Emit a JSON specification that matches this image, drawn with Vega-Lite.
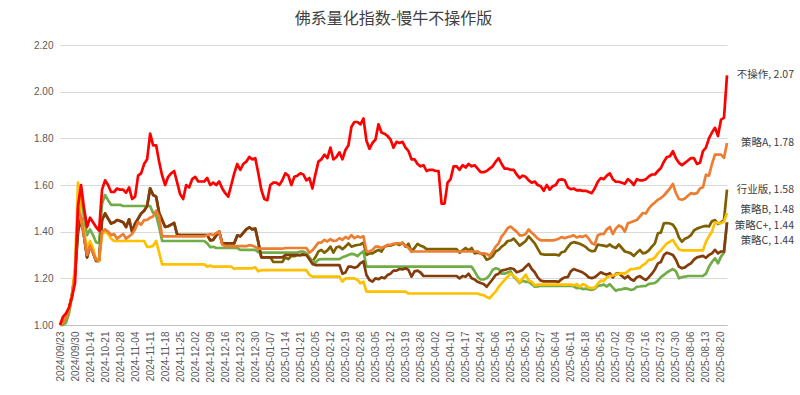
{
"$schema":"https://vega.github.io/schema/vega-lite/v6.json",
"width":667,"height":280,
"autosize":{"type":"none"},
"padding":{"left":60,"top":45,"right":73,"bottom":70},
"background":"white",
"title":{"text":"佛系量化指数-慢牛不操作版","font":"Noto Sans CJK SC","fontSize":16,"fontWeight":"normal","color":"#404040","offset":13,"anchor":"middle"},
"data":{"values":[
{"d":"2024-09-23","行业版":1.00,"策略C":1.00,"策略C+":1.00,"策略B":1.00,"策略A":1.00,"不操作":1.00},
{"d":"2024-09-24","行业版":1.01,"策略C":1.00,"策略C+":1.01,"策略B":1.01,"策略A":1.01,"不操作":1.035},
{"d":"2024-09-25","行业版":1.03,"策略C":1.01,"策略C+":1.03,"策略B":1.03,"策略A":1.03,"不操作":1.05},
{"d":"2024-09-26","行业版":1.07,"策略C":1.05,"策略C+":1.07,"策略B":1.07,"策略A":1.07,"不操作":1.075},
{"d":"2024-09-27","行业版":1.13,"策略C":1.12,"策略C+":1.13,"策略B":1.13,"策略A":1.13,"不操作":1.12},
{"d":"2024-09-30","行业版":1.22,"策略C":1.22,"策略C+":1.22,"策略B":1.25,"策略A":1.22,"不操作":1.18},
{"d":"2024-10-08","行业版":1.40,"策略C":1.50,"策略C+":1.40,"策略B":1.61,"策略A":1.50,"不操作":1.51},
{"d":"2024-10-09","行业版":1.46,"策略C":1.55,"策略C+":1.46,"策略B":1.45,"策略A":1.46,"不操作":1.60},
{"d":"2024-10-10","行业版":1.38,"策略C":1.46,"策略C+":1.38,"策略B":1.40,"策略A":1.38,"不操作":1.50},
{"d":"2024-10-11","行业版":1.29,"策略C":1.385,"策略C+":1.29,"策略B":1.33,"策略A":1.30,"不操作":1.42},
{"d":"2024-10-14","行业版":1.34,"策略C":1.41,"策略C+":1.34,"策略B":1.36,"策略A":1.34,"不操作":1.46},
{"d":"2024-10-15","行业版":1.31,"策略C":1.385,"策略C+":1.31,"策略B":1.33,"策略A":1.31,"不操作":1.44},
{"d":"2024-10-16","行业版":1.275,"策略C":1.355,"策略C+":1.275,"策略B":1.28,"策略A":1.28,"不操作":1.42},
{"d":"2024-10-17","行业版":1.275,"策略C":1.35,"策略C+":1.275,"策略B":1.275,"策略A":1.28,"不操作":1.405},
{"d":"2024-10-18","行业版":1.45,"策略C":1.52,"策略C+":1.45,"策略B":1.39,"策略A":1.40,"不操作":1.58},
{"d":"2024-10-21","行业版":1.478,"策略C":1.557,"策略C+":1.478,"策略B":1.40,"策略A":1.41,"不操作":1.62},
{"d":"2024-10-22","行业版":1.456,"策略C":1.535,"策略C+":1.456,"策略B":1.39,"策略A":1.40,"不操作":1.60},
{"d":"2024-10-23","行业版":1.435,"策略C":1.515,"策略C+":1.435,"策略B":1.37,"策略A":1.385,"不操作":1.57},
{"d":"2024-10-24","行业版":1.44,"策略C":1.515,"策略C+":1.44,"策略B":1.36,"策略A":1.39,"不操作":1.57},
{"d":"2024-10-25","行业版":1.45,"策略C":1.515,"策略C+":1.45,"策略B":1.36,"策略A":1.37,"不操作":1.585},
{"d":"2024-10-28","行业版":1.446,"策略C":1.515,"策略C+":1.446,"策略B":1.36,"策略A":1.38,"不操作":1.58},
{"d":"2024-10-29","行业版":1.44,"策略C":1.51,"策略C+":1.44,"策略B":1.36,"策略A":1.39,"不操作":1.58},
{"d":"2024-10-30","行业版":1.42,"策略C":1.51,"策略C+":1.42,"策略B":1.36,"策略A":1.37,"不操作":1.567},
{"d":"2024-10-31","行业版":1.453,"策略C":1.51,"策略C+":1.453,"策略B":1.36,"策略A":1.38,"不操作":1.59},
{"d":"2024-11-01","行业版":1.40,"策略C":1.51,"策略C+":1.40,"策略B":1.36,"策略A":1.39,"不操作":1.54},
{"d":"2024-11-04","行业版":1.435,"策略C":1.51,"策略C+":1.435,"策略B":1.36,"策略A":1.41,"不操作":1.55},
{"d":"2024-11-05","行业版":1.456,"策略C":1.51,"策略C+":1.456,"策略B":1.36,"策略A":1.44,"不操作":1.64},
{"d":"2024-11-06","行业版":1.478,"策略C":1.51,"策略C+":1.478,"策略B":1.36,"策略A":1.43,"不操作":1.65},
{"d":"2024-11-07","行业版":1.49,"策略C":1.51,"策略C+":1.49,"策略B":1.36,"策略A":1.45,"不操作":1.69},
{"d":"2024-11-08","行业版":1.51,"策略C":1.51,"策略C+":1.51,"策略B":1.335,"策略A":1.45,"不操作":1.71},
{"d":"2024-11-11","行业版":1.586,"策略C":1.51,"策略C+":1.586,"策略B":1.335,"策略A":1.46,"不操作":1.82},
{"d":"2024-11-12","行业版":1.557,"策略C":1.48,"策略C+":1.557,"策略B":1.34,"策略A":1.465,"不操作":1.77},
{"d":"2024-11-13","行业版":1.55,"策略C":1.47,"策略C+":1.55,"策略B":1.36,"策略A":1.49,"不操作":1.77},
{"d":"2024-11-14","行业版":1.48,"策略C":1.42,"策略C+":1.48,"策略B":1.31,"策略A":1.465,"不操作":1.70},
{"d":"2024-11-15","行业版":1.45,"策略C":1.36,"策略C+":1.45,"策略B":1.26,"策略A":1.38,"不操作":1.64},
{"d":"2024-11-18","行业版":1.42,"策略C":1.36,"策略C+":1.42,"策略B":1.26,"策略A":1.38,"不操作":1.60},
{"d":"2024-11-19","行业版":1.423,"策略C":1.36,"策略C+":1.423,"策略B":1.26,"策略A":1.38,"不操作":1.635},
{"d":"2024-11-20","行业版":1.43,"策略C":1.36,"策略C+":1.43,"策略B":1.26,"策略A":1.38,"不操作":1.65},
{"d":"2024-11-21","行业版":1.437,"策略C":1.36,"策略C+":1.437,"策略B":1.26,"策略A":1.38,"不操作":1.66},
{"d":"2024-11-22","行业版":1.387,"策略C":1.36,"策略C+":1.387,"策略B":1.26,"策略A":1.38,"不操作":1.61},
{"d":"2024-11-25","行业版":1.385,"策略C":1.36,"策略C+":1.385,"策略B":1.26,"策略A":1.38,"不操作":1.56},
{"d":"2024-11-26","行业版":1.385,"策略C":1.36,"策略C+":1.385,"策略B":1.26,"策略A":1.38,"不操作":1.54},
{"d":"2024-11-27","行业版":1.385,"策略C":1.36,"策略C+":1.385,"策略B":1.26,"策略A":1.38,"不操作":1.60},
{"d":"2024-11-28","行业版":1.385,"策略C":1.36,"策略C+":1.385,"策略B":1.26,"策略A":1.38,"不操作":1.59},
{"d":"2024-11-29","行业版":1.385,"策略C":1.36,"策略C+":1.385,"策略B":1.26,"策略A":1.38,"不操作":1.625},
{"d":"2024-12-02","行业版":1.385,"策略C":1.36,"策略C+":1.385,"策略B":1.26,"策略A":1.38,"不操作":1.635},
{"d":"2024-12-03","行业版":1.385,"策略C":1.36,"策略C+":1.385,"策略B":1.26,"策略A":1.38,"不操作":1.615},
{"d":"2024-12-04","行业版":1.385,"策略C":1.36,"策略C+":1.385,"策略B":1.26,"策略A":1.38,"不操作":1.615},
{"d":"2024-12-05","行业版":1.385,"策略C":1.36,"策略C+":1.385,"策略B":1.26,"策略A":1.38,"不操作":1.615},
{"d":"2024-12-06","行业版":1.385,"策略C":1.35,"策略C+":1.385,"策略B":1.25,"策略A":1.385,"不操作":1.63},
{"d":"2024-12-09","行业版":1.363,"策略C":1.334,"策略C+":1.363,"策略B":1.255,"策略A":1.39,"不操作":1.60},
{"d":"2024-12-10","行业版":1.365,"策略C":1.335,"策略C+":1.365,"策略B":1.25,"策略A":1.385,"不操作":1.61},
{"d":"2024-12-11","行业版":1.384,"策略C":1.33,"策略C+":1.384,"策略B":1.25,"策略A":1.394,"不操作":1.60},
{"d":"2024-12-12","行业版":1.40,"策略C":1.33,"策略C+":1.40,"策略B":1.25,"策略A":1.40,"不操作":1.615},
{"d":"2024-12-13","行业版":1.35,"策略C":1.33,"策略C+":1.35,"策略B":1.25,"策略A":1.345,"不操作":1.585},
{"d":"2024-12-16","行业版":1.35,"策略C":1.33,"策略C+":1.35,"策略B":1.25,"策略A":1.338,"不操作":1.565},
{"d":"2024-12-17","行业版":1.35,"策略C":1.33,"策略C+":1.35,"策略B":1.25,"策略A":1.338,"不操作":1.55},
{"d":"2024-12-18","行业版":1.35,"策略C":1.33,"策略C+":1.35,"策略B":1.25,"策略A":1.338,"不操作":1.60},
{"d":"2024-12-19","行业版":1.35,"策略C":1.33,"策略C+":1.35,"策略B":1.24,"策略A":1.338,"不操作":1.65},
{"d":"2024-12-20","行业版":1.384,"策略C":1.33,"策略C+":1.384,"策略B":1.243,"策略A":1.338,"不操作":1.69},
{"d":"2024-12-23","行业版":1.38,"策略C":1.322,"策略C+":1.38,"策略B":1.243,"策略A":1.338,"不操作":1.665},
{"d":"2024-12-24","行业版":1.395,"策略C":1.322,"策略C+":1.395,"策略B":1.243,"策略A":1.338,"不操作":1.69},
{"d":"2024-12-25","行业版":1.41,"策略C":1.322,"策略C+":1.41,"策略B":1.243,"策略A":1.338,"不操作":1.70},
{"d":"2024-12-26","行业版":1.418,"策略C":1.322,"策略C+":1.418,"策略B":1.243,"策略A":1.342,"不操作":1.72},
{"d":"2024-12-27","行业版":1.41,"策略C":1.322,"策略C+":1.41,"策略B":1.243,"策略A":1.34,"不操作":1.71},
{"d":"2024-12-30","行业版":1.413,"策略C":1.322,"策略C+":1.413,"策略B":1.247,"策略A":1.335,"不操作":1.715},
{"d":"2024-12-31","行业版":1.355,"策略C":1.312,"策略C+":1.355,"策略B":1.23,"策略A":1.327,"不操作":1.65},
{"d":"2025-01-02","行业版":1.29,"策略C":1.31,"策略C+":1.29,"策略B":1.235,"策略A":1.327,"不操作":1.58},
{"d":"2025-01-03","行业版":1.29,"策略C":1.31,"策略C+":1.29,"策略B":1.235,"策略A":1.327,"不操作":1.54},
{"d":"2025-01-06","行业版":1.29,"策略C":1.31,"策略C+":1.29,"策略B":1.235,"策略A":1.327,"不操作":1.535},
{"d":"2025-01-07","行业版":1.29,"策略C":1.31,"策略C+":1.29,"策略B":1.235,"策略A":1.327,"不操作":1.60},
{"d":"2025-01-08","行业版":1.27,"策略C":1.31,"策略C+":1.29,"策略B":1.235,"策略A":1.327,"不操作":1.61},
{"d":"2025-01-09","行业版":1.27,"策略C":1.31,"策略C+":1.29,"策略B":1.235,"策略A":1.327,"不操作":1.61},
{"d":"2025-01-10","行业版":1.27,"策略C":1.31,"策略C+":1.29,"策略B":1.235,"策略A":1.327,"不操作":1.60},
{"d":"2025-01-13","行业版":1.27,"策略C":1.31,"策略C+":1.29,"策略B":1.235,"策略A":1.327,"不操作":1.62},
{"d":"2025-01-14","行业版":1.29,"策略C":1.31,"策略C+":1.30,"策略B":1.235,"策略A":1.33,"不操作":1.65},
{"d":"2025-01-15","行业版":1.282,"策略C":1.31,"策略C+":1.30,"策略B":1.235,"策略A":1.33,"不操作":1.64},
{"d":"2025-01-16","行业版":1.296,"策略C":1.31,"策略C+":1.30,"策略B":1.235,"策略A":1.33,"不操作":1.60},
{"d":"2025-01-17","行业版":1.295,"策略C":1.31,"策略C+":1.30,"策略B":1.235,"策略A":1.33,"不操作":1.635},
{"d":"2025-01-20","行业版":1.30,"策略C":1.31,"策略C+":1.30,"策略B":1.235,"策略A":1.33,"不操作":1.64},
{"d":"2025-01-21","行业版":1.298,"策略C":1.315,"策略C+":1.30,"策略B":1.235,"策略A":1.33,"不操作":1.65},
{"d":"2025-01-22","行业版":1.307,"策略C":1.315,"策略C+":1.30,"策略B":1.235,"策略A":1.33,"不操作":1.645},
{"d":"2025-01-23","行业版":1.305,"策略C":1.307,"策略C+":1.30,"策略B":1.235,"策略A":1.33,"不操作":1.62},
{"d":"2025-01-24","行业版":1.286,"策略C":1.29,"策略C+":1.282,"策略B":1.215,"策略A":1.31,"不操作":1.63},
{"d":"2025-01-27","行业版":1.272,"策略C":1.275,"策略C+":1.262,"策略B":1.207,"策略A":1.32,"不操作":1.585},
{"d":"2025-02-05","行业版":1.29,"策略C":1.267,"策略C+":1.257,"策略B":1.207,"策略A":1.336,"不操作":1.645},
{"d":"2025-02-06","行业版":1.315,"策略C":1.28,"策略C+":1.257,"策略B":1.207,"策略A":1.353,"不操作":1.70},
{"d":"2025-02-07","行业版":1.322,"策略C":1.282,"策略C+":1.257,"策略B":1.207,"策略A":1.353,"不操作":1.71},
{"d":"2025-02-10","行业版":1.31,"策略C":1.282,"策略C+":1.257,"策略B":1.207,"策略A":1.365,"不操作":1.73},
{"d":"2025-02-11","行业版":1.32,"策略C":1.282,"策略C+":1.257,"策略B":1.207,"策略A":1.358,"不操作":1.715},
{"d":"2025-02-12","行业版":1.336,"策略C":1.282,"策略C+":1.257,"策略B":1.207,"策略A":1.368,"不操作":1.76},
{"d":"2025-02-13","行业版":1.31,"策略C":1.282,"策略C+":1.257,"策略B":1.207,"策略A":1.36,"不操作":1.71},
{"d":"2025-02-14","行业版":1.333,"策略C":1.282,"策略C+":1.257,"策略B":1.207,"策略A":1.362,"不操作":1.72},
{"d":"2025-02-17","行业版":1.336,"策略C":1.282,"策略C+":1.257,"策略B":1.207,"策略A":1.372,"不操作":1.74},
{"d":"2025-02-18","行业版":1.325,"策略C":1.29,"策略C+":1.22,"策略B":1.186,"策略A":1.365,"不操作":1.71},
{"d":"2025-02-19","行业版":1.336,"策略C":1.295,"策略C+":1.225,"策略B":1.20,"策略A":1.377,"不操作":1.75},
{"d":"2025-02-20","行业版":1.35,"策略C":1.30,"策略C+":1.25,"策略B":1.20,"策略A":1.37,"不操作":1.77},
{"d":"2025-02-21","行业版":1.336,"策略C":1.305,"策略C+":1.25,"策略B":1.20,"策略A":1.385,"不操作":1.85},
{"d":"2025-02-24","行业版":1.34,"策略C":1.303,"策略C+":1.245,"策略B":1.20,"策略A":1.372,"不操作":1.87},
{"d":"2025-02-25","行业版":1.343,"策略C":1.295,"策略C+":1.25,"策略B":1.193,"策略A":1.38,"不操作":1.87},
{"d":"2025-02-26","行业版":1.345,"策略C":1.307,"策略C+":1.265,"策略B":1.178,"策略A":1.375,"不操作":1.86},
{"d":"2025-02-27","行业版":1.353,"策略C":1.315,"策略C+":1.272,"策略B":1.186,"策略A":1.38,"不操作":1.885},
{"d":"2025-02-28","行业版":1.30,"策略C":1.25,"策略C+":1.214,"策略B":1.143,"策略A":1.315,"不操作":1.79},
{"d":"2025-03-03","行业版":1.307,"策略C":1.25,"策略C+":1.193,"策略B":1.143,"策略A":1.315,"不操作":1.755},
{"d":"2025-03-04","行业版":1.307,"策略C":1.25,"策略C+":1.186,"策略B":1.143,"策略A":1.322,"不操作":1.78},
{"d":"2025-03-05","行业版":1.315,"策略C":1.25,"策略C+":1.20,"策略B":1.143,"策略A":1.336,"不操作":1.795},
{"d":"2025-03-06","行业版":1.322,"策略C":1.25,"策略C+":1.196,"策略B":1.143,"策略A":1.336,"不操作":1.86},
{"d":"2025-03-07","行业版":1.315,"策略C":1.25,"策略C+":1.204,"策略B":1.143,"策略A":1.33,"不操作":1.825},
{"d":"2025-03-10","行业版":1.336,"策略C":1.25,"策略C+":1.20,"策略B":1.143,"策略A":1.336,"不操作":1.82},
{"d":"2025-03-11","行业版":1.34,"策略C":1.25,"策略C+":1.214,"策略B":1.143,"策略A":1.343,"不操作":1.81},
{"d":"2025-03-12","行业版":1.34,"策略C":1.25,"策略C+":1.22,"策略B":1.143,"策略A":1.343,"不操作":1.795},
{"d":"2025-03-13","行业版":1.345,"策略C":1.25,"策略C+":1.233,"策略B":1.143,"策略A":1.348,"不操作":1.76},
{"d":"2025-03-14","行业版":1.348,"策略C":1.25,"策略C+":1.233,"策略B":1.143,"策略A":1.35,"不操作":1.785},
{"d":"2025-03-17","行业版":1.343,"策略C":1.25,"策略C+":1.24,"策略B":1.143,"策略A":1.35,"不操作":1.78},
{"d":"2025-03-18","行业版":1.353,"策略C":1.25,"策略C+":1.238,"策略B":1.143,"策略A":1.35,"不操作":1.785},
{"d":"2025-03-19","行业版":1.336,"策略C":1.25,"策略C+":1.243,"策略B":1.143,"策略A":1.34,"不操作":1.76},
{"d":"2025-03-20","行业版":1.348,"策略C":1.25,"策略C+":1.236,"策略B":1.135,"策略A":1.33,"不操作":1.745},
{"d":"2025-03-21","行业版":1.315,"策略C":1.25,"策略C+":1.207,"策略B":1.135,"策略A":1.315,"不操作":1.71},
{"d":"2025-03-24","行业版":1.33,"策略C":1.25,"策略C+":1.23,"策略B":1.135,"策略A":1.315,"不操作":1.71},
{"d":"2025-03-25","行业版":1.348,"策略C":1.25,"策略C+":1.233,"策略B":1.135,"策略A":1.315,"不操作":1.69},
{"d":"2025-03-26","行业版":1.34,"策略C":1.25,"策略C+":1.225,"策略B":1.135,"策略A":1.315,"不操作":1.68},
{"d":"2025-03-27","行业版":1.335,"策略C":1.25,"策略C+":1.21,"策略B":1.135,"策略A":1.315,"不操作":1.685},
{"d":"2025-03-28","行业版":1.325,"策略C":1.25,"策略C+":1.21,"策略B":1.135,"策略A":1.315,"不操作":1.66},
{"d":"2025-03-31","行业版":1.325,"策略C":1.25,"策略C+":1.21,"策略B":1.135,"策略A":1.315,"不操作":1.665},
{"d":"2025-04-01","行业版":1.325,"策略C":1.25,"策略C+":1.21,"策略B":1.135,"策略A":1.315,"不操作":1.665},
{"d":"2025-04-02","行业版":1.325,"策略C":1.25,"策略C+":1.21,"策略B":1.135,"策略A":1.315,"不操作":1.66},
{"d":"2025-04-03","行业版":1.325,"策略C":1.25,"策略C+":1.21,"策略B":1.135,"策略A":1.315,"不操作":1.66},
{"d":"2025-04-07","行业版":1.325,"策略C":1.25,"策略C+":1.21,"策略B":1.135,"策略A":1.315,"不操作":1.52},
{"d":"2025-04-08","行业版":1.325,"策略C":1.25,"策略C+":1.21,"策略B":1.135,"策略A":1.315,"不操作":1.52},
{"d":"2025-04-09","行业版":1.325,"策略C":1.25,"策略C+":1.21,"策略B":1.135,"策略A":1.315,"不操作":1.61},
{"d":"2025-04-10","行业版":1.325,"策略C":1.25,"策略C+":1.21,"策略B":1.135,"策略A":1.315,"不操作":1.625},
{"d":"2025-04-11","行业版":1.325,"策略C":1.25,"策略C+":1.21,"策略B":1.135,"策略A":1.315,"不操作":1.68},
{"d":"2025-04-14","行业版":1.325,"策略C":1.25,"策略C+":1.21,"策略B":1.135,"策略A":1.315,"不操作":1.68},
{"d":"2025-04-15","行业版":1.31,"策略C":1.25,"策略C+":1.20,"策略B":1.135,"策略A":1.315,"不操作":1.665},
{"d":"2025-04-16","行业版":1.32,"策略C":1.25,"策略C+":1.21,"策略B":1.135,"策略A":1.315,"不操作":1.685},
{"d":"2025-04-17","行业版":1.33,"策略C":1.25,"策略C+":1.207,"策略B":1.135,"策略A":1.315,"不操作":1.675},
{"d":"2025-04-18","行业版":1.32,"策略C":1.25,"策略C+":1.22,"策略B":1.135,"策略A":1.315,"不操作":1.69},
{"d":"2025-04-21","行业版":1.33,"策略C":1.25,"策略C+":1.20,"策略B":1.135,"策略A":1.315,"不操作":1.68},
{"d":"2025-04-22","行业版":1.307,"策略C":1.23,"策略C+":1.195,"策略B":1.135,"策略A":1.315,"不操作":1.685},
{"d":"2025-04-23","行业版":1.31,"策略C":1.207,"策略C+":1.185,"策略B":1.135,"策略A":1.315,"不操作":1.67},
{"d":"2025-04-24","行业版":1.307,"策略C":1.195,"策略C+":1.18,"策略B":1.13,"策略A":1.307,"不操作":1.655},
{"d":"2025-04-25","行业版":1.30,"策略C":1.195,"策略C+":1.176,"策略B":1.128,"策略A":1.307,"不操作":1.655},
{"d":"2025-04-28","行业版":1.28,"策略C":1.20,"策略C+":1.164,"策略B":1.12,"策略A":1.305,"不操作":1.66},
{"d":"2025-04-29","行业版":1.285,"策略C":1.214,"策略C+":1.18,"策略B":1.114,"策略A":1.296,"不操作":1.67},
{"d":"2025-04-30","行业版":1.295,"策略C":1.236,"策略C+":1.196,"策略B":1.13,"策略A":1.315,"不操作":1.68},
{"d":"2025-05-06","行业版":1.315,"策略C":1.243,"策略C+":1.214,"策略B":1.143,"策略A":1.336,"不操作":1.70},
{"d":"2025-05-07","行业版":1.322,"策略C":1.24,"策略C+":1.22,"策略B":1.164,"策略A":1.35,"不操作":1.715},
{"d":"2025-05-08","行业版":1.336,"策略C":1.22,"策略C+":1.233,"策略B":1.178,"策略A":1.38,"不操作":1.69},
{"d":"2025-05-09","行业版":1.345,"策略C":1.22,"策略C+":1.236,"策略B":1.193,"策略A":1.395,"不操作":1.67},
{"d":"2025-05-12","行业版":1.36,"策略C":1.225,"策略C+":1.24,"策略B":1.207,"策略A":1.415,"不操作":1.67},
{"d":"2025-05-13","行业版":1.362,"策略C":1.23,"策略C+":1.243,"策略B":1.22,"策略A":1.422,"不操作":1.665},
{"d":"2025-05-14","行业版":1.37,"策略C":1.207,"策略C+":1.24,"策略B":1.21,"策略A":1.41,"不操作":1.665},
{"d":"2025-05-15","行业版":1.355,"策略C":1.195,"策略C+":1.226,"策略B":1.20,"策略A":1.40,"不操作":1.645},
{"d":"2025-05-16","行业版":1.34,"策略C":1.18,"策略C+":1.23,"策略B":1.183,"策略A":1.384,"不操作":1.63},
{"d":"2025-05-19","行业版":1.35,"策略C":1.19,"策略C+":1.236,"策略B":1.20,"策略A":1.384,"不操作":1.64},
{"d":"2025-05-20","行业版":1.36,"策略C":1.185,"策略C+":1.25,"策略B":1.216,"策略A":1.39,"不操作":1.635},
{"d":"2025-05-21","行业版":1.38,"策略C":1.185,"策略C+":1.262,"策略B":1.19,"策略A":1.41,"不操作":1.62},
{"d":"2025-05-22","行业版":1.365,"策略C":1.175,"策略C+":1.24,"策略B":1.185,"策略A":1.395,"不操作":1.61},
{"d":"2025-05-23","行业版":1.35,"策略C":1.164,"策略C+":1.226,"策略B":1.17,"策略A":1.384,"不操作":1.615},
{"d":"2025-05-26","行业版":1.327,"策略C":1.165,"策略C+":1.204,"策略B":1.173,"策略A":1.37,"不操作":1.60},
{"d":"2025-05-27","行业版":1.305,"策略C":1.168,"策略C+":1.19,"策略B":1.173,"策略A":1.363,"不操作":1.595},
{"d":"2025-05-28","行业版":1.302,"策略C":1.168,"策略C+":1.187,"策略B":1.173,"策略A":1.363,"不操作":1.575},
{"d":"2025-05-29","行业版":1.302,"策略C":1.168,"策略C+":1.187,"策略B":1.173,"策略A":1.363,"不操作":1.60},
{"d":"2025-05-30","行业版":1.302,"策略C":1.168,"策略C+":1.187,"策略B":1.173,"策略A":1.363,"不操作":1.58},
{"d":"2025-06-03","行业版":1.302,"策略C":1.168,"策略C+":1.187,"策略B":1.173,"策略A":1.363,"不操作":1.595},
{"d":"2025-06-04","行业版":1.302,"策略C":1.168,"策略C+":1.187,"策略B":1.173,"策略A":1.365,"不操作":1.60},
{"d":"2025-06-05","行业版":1.298,"策略C":1.168,"策略C+":1.185,"策略B":1.173,"策略A":1.37,"不操作":1.622},
{"d":"2025-06-06","行业版":1.312,"策略C":1.168,"策略C+":1.197,"策略B":1.173,"策略A":1.377,"不操作":1.624},
{"d":"2025-06-09","行业版":1.315,"策略C":1.168,"策略C+":1.204,"策略B":1.173,"策略A":1.372,"不操作":1.62},
{"d":"2025-06-10","行业版":1.334,"策略C":1.168,"策略C+":1.205,"策略B":1.173,"策略A":1.377,"不操作":1.59},
{"d":"2025-06-11","行业版":1.35,"策略C":1.168,"策略C+":1.23,"策略B":1.173,"策略A":1.38,"不操作":1.582},
{"d":"2025-06-12","行业版":1.355,"策略C":1.165,"策略C+":1.24,"策略B":1.17,"策略A":1.384,"不操作":1.585},
{"d":"2025-06-13","行业版":1.352,"策略C":1.158,"策略C+":1.235,"策略B":1.175,"策略A":1.375,"不操作":1.577},
{"d":"2025-06-16","行业版":1.348,"策略C":1.16,"策略C+":1.23,"策略B":1.164,"策略A":1.38,"不操作":1.578},
{"d":"2025-06-17","行业版":1.342,"策略C":1.154,"策略C+":1.225,"策略B":1.175,"策略A":1.378,"不操作":1.575},
{"d":"2025-06-18","行业版":1.334,"策略C":1.156,"策略C+":1.216,"策略B":1.17,"策略A":1.384,"不操作":1.575},
{"d":"2025-06-19","行业版":1.322,"策略C":1.152,"策略C+":1.204,"策略B":1.16,"策略A":1.37,"不操作":1.57},
{"d":"2025-06-20","行业版":1.316,"策略C":1.15,"策略C+":1.201,"策略B":1.158,"策略A":1.35,"不操作":1.565},
{"d":"2025-06-23","行业版":1.318,"策略C":1.155,"策略C+":1.205,"策略B":1.16,"策略A":1.345,"不操作":1.586},
{"d":"2025-06-24","行业版":1.345,"策略C":1.168,"策略C+":1.215,"策略B":1.178,"策略A":1.385,"不操作":1.614},
{"d":"2025-06-25","行业版":1.342,"策略C":1.17,"策略C+":1.226,"策略B":1.19,"策略A":1.39,"不操作":1.63},
{"d":"2025-06-26","行业版":1.34,"策略C":1.173,"策略C+":1.22,"策略B":1.188,"策略A":1.39,"不操作":1.625},
{"d":"2025-06-27","行业版":1.337,"策略C":1.165,"策略C+":1.216,"策略B":1.205,"策略A":1.41,"不操作":1.64},
{"d":"2025-06-30","行业版":1.345,"策略C":1.175,"策略C+":1.222,"策略B":1.21,"策略A":1.42,"不操作":1.65},
{"d":"2025-07-01","行业版":1.335,"策略C":1.16,"策略C+":1.204,"策略B":1.212,"策略A":1.39,"不操作":1.625},
{"d":"2025-07-02","行业版":1.33,"策略C":1.147,"策略C+":1.219,"策略B":1.216,"策略A":1.413,"不操作":1.614},
{"d":"2025-07-03","行业版":1.345,"策略C":1.152,"策略C+":1.222,"策略B":1.22,"策略A":1.427,"不操作":1.614},
{"d":"2025-07-04","行业版":1.33,"策略C":1.153,"策略C+":1.21,"策略B":1.222,"策略A":1.42,"不操作":1.61},
{"d":"2025-07-07","行业版":1.315,"策略C":1.157,"策略C+":1.20,"策略B":1.22,"策略A":1.40,"不操作":1.605},
{"d":"2025-07-08","行业版":1.312,"策略C":1.155,"策略C+":1.21,"策略B":1.23,"策略A":1.436,"不操作":1.625},
{"d":"2025-07-09","行业版":1.307,"策略C":1.15,"策略C+":1.196,"策略B":1.24,"策略A":1.44,"不操作":1.615},
{"d":"2025-07-10","行业版":1.296,"策略C":1.153,"策略C+":1.19,"策略B":1.24,"策略A":1.446,"不操作":1.60},
{"d":"2025-07-11","行业版":1.31,"策略C":1.164,"策略C+":1.205,"策略B":1.243,"策略A":1.45,"不操作":1.625},
{"d":"2025-07-14","行业版":1.322,"策略C":1.165,"策略C+":1.21,"策略B":1.245,"策略A":1.465,"不操作":1.62},
{"d":"2025-07-15","行业版":1.307,"策略C":1.167,"策略C+":1.20,"策略B":1.257,"策略A":1.48,"不操作":1.62},
{"d":"2025-07-16","行业版":1.31,"策略C":1.168,"策略C+":1.193,"策略B":1.265,"策略A":1.478,"不操作":1.625},
{"d":"2025-07-17","行业版":1.32,"策略C":1.176,"策略C+":1.205,"策略B":1.28,"策略A":1.50,"不操作":1.637},
{"d":"2025-07-18","行业版":1.336,"策略C":1.178,"策略C+":1.22,"策略B":1.28,"策略A":1.515,"不操作":1.645},
{"d":"2025-07-21","行业版":1.35,"策略C":1.18,"策略C+":1.238,"策略B":1.29,"策略A":1.525,"不操作":1.645},
{"d":"2025-07-22","行业版":1.393,"策略C":1.19,"策略C+":1.264,"策略B":1.307,"策略A":1.537,"不操作":1.66},
{"d":"2025-07-23","行业版":1.396,"策略C":1.205,"策略C+":1.27,"策略B":1.32,"策略A":1.544,"不操作":1.673},
{"d":"2025-07-24","行业版":1.436,"策略C":1.215,"策略C+":1.30,"策略B":1.336,"策略A":1.555,"不操作":1.70},
{"d":"2025-07-25","行业版":1.437,"策略C":1.225,"策略C+":1.31,"策略B":1.35,"策略A":1.57,"不操作":1.72},
{"d":"2025-07-28","行业版":1.435,"策略C":1.233,"策略C+":1.305,"策略B":1.357,"策略A":1.585,"不操作":1.723},
{"d":"2025-07-29","行业版":1.43,"策略C":1.24,"策略C+":1.30,"策略B":1.365,"策略A":1.605,"不操作":1.745},
{"d":"2025-07-30","行业版":1.41,"策略C":1.23,"策略C+":1.28,"策略B":1.343,"策略A":1.565,"不操作":1.715},
{"d":"2025-07-31","行业版":1.375,"策略C":1.20,"策略C+":1.25,"策略B":1.325,"策略A":1.54,"不操作":1.695},
{"d":"2025-08-01","行业版":1.357,"策略C":1.205,"策略C+":1.243,"策略B":1.32,"策略A":1.537,"不操作":1.685},
{"d":"2025-08-04","行业版":1.37,"策略C":1.207,"策略C+":1.247,"策略B":1.32,"策略A":1.542,"不操作":1.695},
{"d":"2025-08-05","行业版":1.375,"策略C":1.21,"策略C+":1.257,"策略B":1.32,"策略A":1.554,"不操作":1.705},
{"d":"2025-08-06","行业版":1.385,"策略C":1.21,"策略C+":1.264,"策略B":1.32,"策略A":1.565,"不操作":1.715},
{"d":"2025-08-07","行业版":1.405,"策略C":1.21,"策略C+":1.28,"策略B":1.32,"策略A":1.562,"不操作":1.715},
{"d":"2025-08-08","行业版":1.413,"策略C":1.21,"策略C+":1.29,"策略B":1.32,"策略A":1.565,"不操作":1.69},
{"d":"2025-08-11","行业版":1.418,"策略C":1.21,"策略C+":1.293,"策略B":1.32,"策略A":1.585,"不操作":1.695},
{"d":"2025-08-12","行业版":1.422,"策略C":1.21,"策略C+":1.296,"策略B":1.32,"策略A":1.59,"不操作":1.745},
{"d":"2025-08-13","行业版":1.425,"策略C":1.22,"策略C+":1.288,"策略B":1.357,"策略A":1.644,"不操作":1.76},
{"d":"2025-08-14","行业版":1.422,"策略C":1.25,"策略C+":1.30,"策略B":1.38,"策略A":1.64,"不操作":1.80},
{"d":"2025-08-15","行业版":1.445,"策略C":1.27,"策略C+":1.307,"策略B":1.40,"策略A":1.69,"不操作":1.825},
{"d":"2025-08-18","行业版":1.45,"策略C":1.286,"策略C+":1.322,"策略B":1.44,"策略A":1.73,"不操作":1.845},
{"d":"2025-08-19","行业版":1.433,"策略C":1.264,"策略C+":1.307,"策略B":1.437,"策略A":1.73,"不操作":1.81},
{"d":"2025-08-20","行业版":1.44,"策略C":1.293,"策略C+":1.315,"策略B":1.436,"策略A":1.73,"不操作":1.88},
{"d":"2025-08-21","行业版":1.45,"策略C":1.31,"策略C+":1.315,"策略B":1.443,"策略A":1.716,"不操作":1.888},
{"d":"2025-08-22","行业版":1.58,"策略C":1.44,"策略C+":1.44,"策略B":1.48,"策略A":1.78,"不操作":2.07}
]},
"transform":[{"fold":["行业版","策略C","策略C+","策略B","策略A","不操作"],"as":["series","value"]}],
"encoding":{
 "x":{"field":"d","type":"ordinal","sort":null,"scale":{"type":"point","padding":0},
  "axis":{"title":null,"values":["2024-09-23","2024-09-30","2024-10-14","2024-10-21","2024-10-28","2024-11-04","2024-11-11","2024-11-18","2024-11-25","2024-12-02","2024-12-09","2024-12-16","2024-12-23","2024-12-30","2025-01-07","2025-01-14","2025-01-21","2025-02-05","2025-02-12","2025-02-19","2025-02-26","2025-03-05","2025-03-12","2025-03-19","2025-03-26","2025-04-02","2025-04-10","2025-04-17","2025-04-24","2025-05-06","2025-05-13","2025-05-20","2025-05-27","2025-06-04","2025-06-11","2025-06-18","2025-06-25","2025-07-02","2025-07-09","2025-07-16","2025-07-23","2025-07-30","2025-08-06","2025-08-13","2025-08-20"],
  "labelExpr":"datum.value == '2024-09-23' ? '2024/09/23' : datum.value == '2024-09-30' ? '2024/09/30' : datum.value",
  "labelAngle":270,"ticks":false,"grid":false,"domainColor":"#bfbfbf","labelFont":"Liberation Sans","labelFontSize":10,"labelColor":"#595959","labelPadding":6}},
 "y":{"field":"value","type":"quantitative","scale":{"domain":[1,2.2],"nice":false,"zero":false},
  "axis":{"title":null,"values":[1,1.2,1.4,1.6,1.8,2,2.2],"format":".2f","domain":false,"ticks":false,"gridColor":"#d9d9d9","gridWidth":1,"labelFont":"Liberation Sans","labelFontSize":10,"labelColor":"#595959","labelPadding":7}}
},
"layer":[
 {"mark":{"type":"line","strokeWidth":2.7,"strokeJoin":"round"},
  "encoding":{"color":{"field":"series","type":"nominal","legend":null,"scale":{"domain":["行业版","策略C","策略C+","策略B","策略A","不操作"],"range":["#7F6000","#70AD47","#843C0C","#FFC000","#ED7D31","#FF0000"]}}}},
 {"transform":[{"filter":"datum.d == '2025-08-22' && datum.series != '策略C' && datum.series != '策略C+' && datum.series != '策略B'"},{"calculate":"datum.series + ', ' + format(datum.value, '.2f')","as":"label"}],
  "mark":{"type":"text","align":"right","baseline":"middle","dx":67,"font":"Noto Sans CJK SC","fontSize":10.5,"color":"#404040"},
  "encoding":{"text":{"field":"label","type":"nominal"}}},
 {"transform":[{"filter":"datum.d == '2025-08-22' && datum.series == '策略B'"},{"calculate":"datum.series + ', ' + format(datum.value, '.2f')","as":"label"}],
  "mark":{"type":"text","align":"right","baseline":"middle","dx":67,"dy":-3,"font":"Noto Sans CJK SC","fontSize":10.5,"color":"#404040"},
  "encoding":{"text":{"field":"label","type":"nominal"}}},
 {"transform":[{"filter":"datum.d == '2025-08-22' && datum.series == '策略C+'"},{"calculate":"datum.series + ', ' + format(datum.value, '.2f')","as":"label"}],
  "mark":{"type":"text","align":"right","baseline":"middle","dx":67,"dy":4,"font":"Noto Sans CJK SC","fontSize":10.5,"color":"#404040"},
  "encoding":{"text":{"field":"label","type":"nominal"}}},
 {"transform":[{"filter":"datum.d == '2025-08-22' && datum.series == '策略C'"},{"calculate":"datum.series + ', ' + format(datum.value, '.2f')","as":"label"}],
  "mark":{"type":"text","align":"right","baseline":"middle","dx":67,"dy":19,"font":"Noto Sans CJK SC","fontSize":10.5,"color":"#404040"},
  "encoding":{"text":{"field":"label","type":"nominal"}}}
],
"config":{"view":{"stroke":null}}
}
